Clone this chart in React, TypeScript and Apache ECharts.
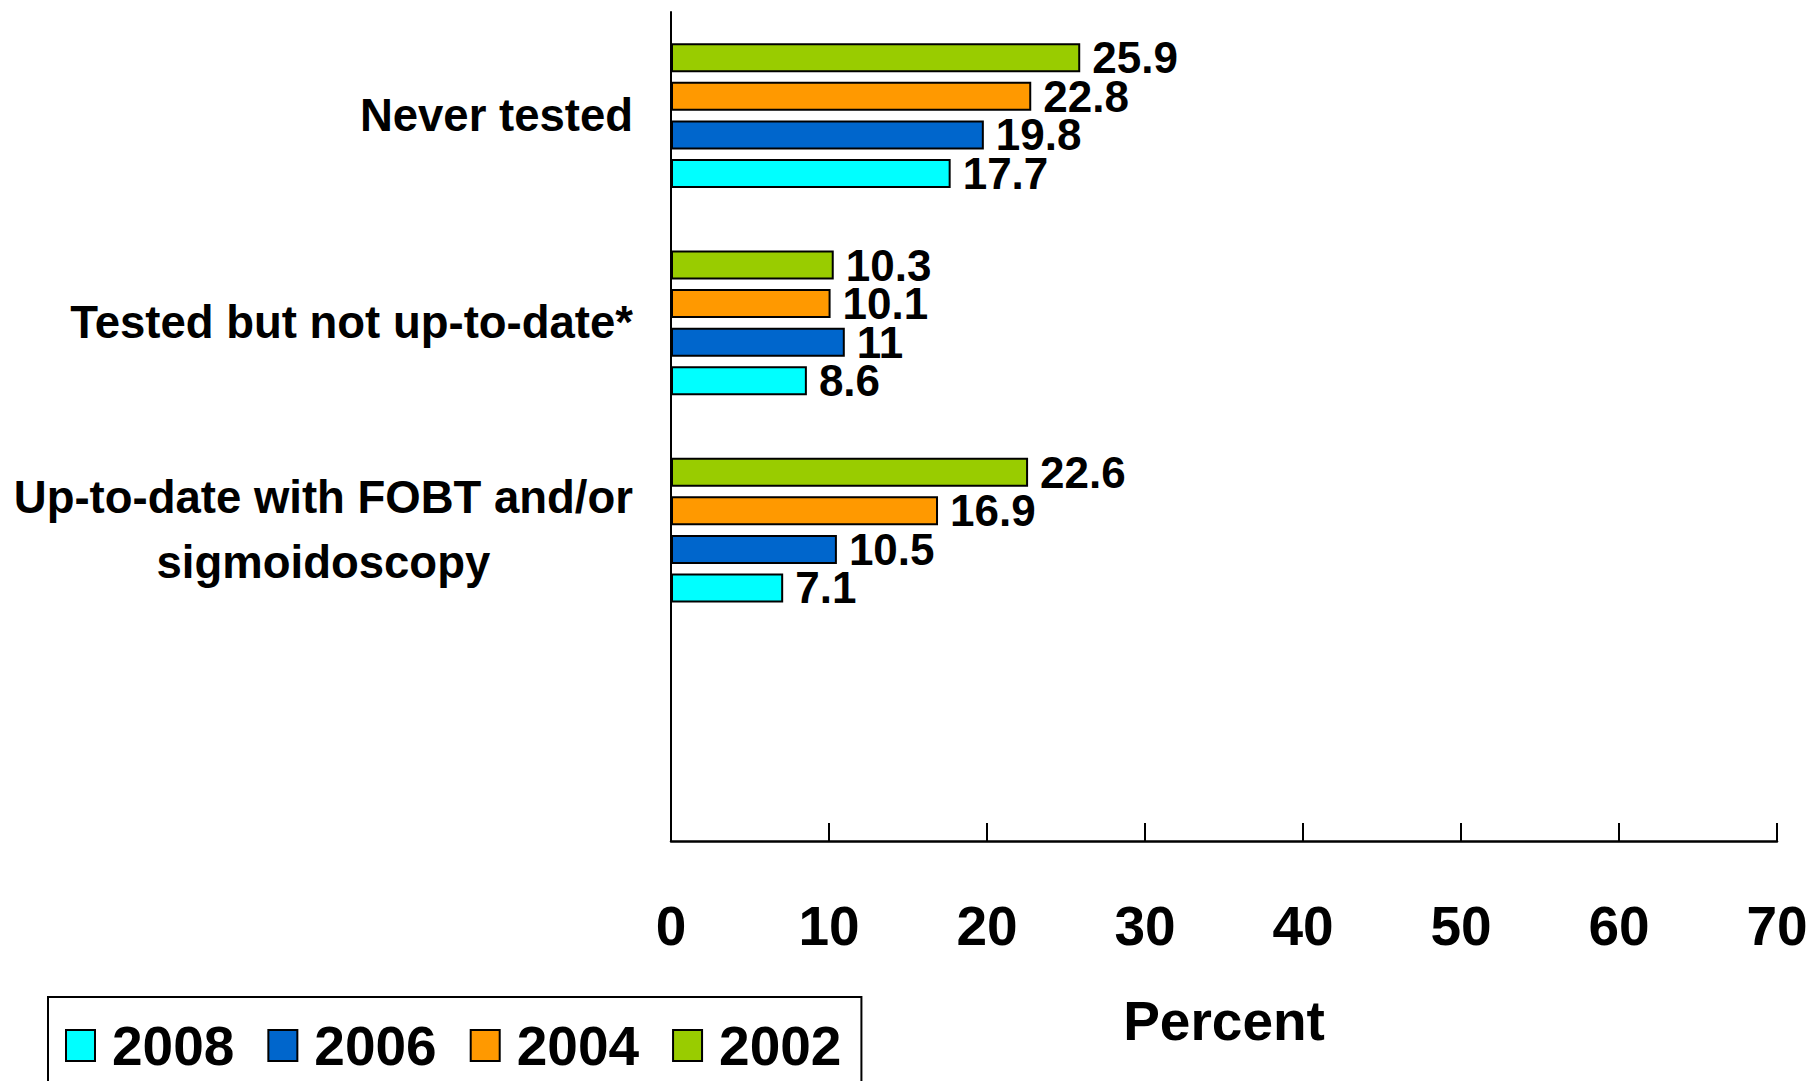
import React, { useEffect, useRef } from "react";
import * as echarts from "echarts";

const categories = [
  "Never tested",
  "Tested but not up-to-date*",
  "Up-to-date with FOBT and/or\nsigmoidoscopy",
  "",
];
const legendYears = ["2008", "2006", "2004", "2002"];
// series drawn top-to-bottom within each group
const seriesYears = ["2002", "2004", "2006", "2008"];
const values2002 = [25.9, 10.3, 22.6, null];
const values2004 = [22.8, 10.1, 16.9, null];
const values2006 = [19.8, 11, 10.5, null];
const values2008 = [17.7, 8.6, 7.1, null];
const seriesColors = ["#99CC00", "#FF9900", "#0066CC", "#00FFFF"];
const xTicks = { min: 0, max: 70, interval: 10 };

const FONT = "'Liberation Sans', Arial, sans-serif";

export default function App() {
  const ref = useRef<HTMLDivElement>(null);
  useEffect(() => {
    const chart = echarts.init(ref.current!, null, { renderer: "svg" });
    const seriesData = [values2002, values2004, values2006, values2008];
    chart.setOption({
      animation: false,
      backgroundColor: "#ffffff",
      textStyle: { fontFamily: FONT },
      grid: { left: 671, right: 35, top: 12, bottom: 240, containLabel: false },
      legend: {
        data: legendYears,
        left: 48,
        top: 997,
        orient: "horizontal",
        icon: "rect",
        padding: [21, 20, 40, 17],
        borderColor: "#000",
        borderWidth: 2,
        itemWidth: 29,
        itemHeight: 31,
        itemGap: 33,
        textStyle: {
          fontSize: 55,
          fontWeight: "bold",
          color: "#000",
          fontFamily: FONT,
          padding: [0, 0, 0, 12],
        },
        selectedMode: false,
      },
      xAxis: {
        type: "value",
        min: xTicks.min,
        max: xTicks.max,
        interval: xTicks.interval,
        name: "Percent",
        nameLocation: "middle",
        nameGap: 152,
        nameTextStyle: { fontSize: 55, fontWeight: "bold", color: "#000", fontFamily: FONT },
        axisLine: { show: true, lineStyle: { color: "#000", width: 2.5 } },
        axisTick: { show: true, inside: true, length: 18, lineStyle: { color: "#000", width: 2 } },
        axisLabel: { fontSize: 55, fontWeight: "bold", color: "#000", margin: 57, fontFamily: FONT },
        splitLine: { show: false },
      },
      yAxis: {
        type: "category",
        data: categories,
        inverse: true,
        axisLine: { show: true, lineStyle: { color: "#000", width: 2 } },
        axisTick: { show: false },
        axisLabel: {
          margin: 38,
          formatter: (v: string) =>
            v
              .split("\n")
              .map((l) => `{c|${l}}`)
              .join("\n"),
          rich: {
            c: {
              align: "center",
              fontSize: 45.5,
              fontWeight: "bold",
              color: "#000",
              fontFamily: FONT,
              lineHeight: 65,
            },
          },
        },
      },
      series: seriesYears.map((y, i) => ({
        name: y,
        type: "bar",
        data: seriesData[i],
        barWidth: 29,
        barGap: "33%",
        itemStyle: { color: seriesColors[i], borderColor: "#000", borderWidth: 2 },
        label: {
          show: true,
          position: "right",
          distance: 12,
          fontSize: 44,
          fontWeight: "bold",
          color: "#000",
          fontFamily: FONT,
        },
      })),
    });
    return () => chart.dispose();
  }, []);
  return (
    <div
      ref={ref}
      style={{ position: "absolute", left: 0, top: 0, width: 1812, height: 1081 }}
    />
  );
}
